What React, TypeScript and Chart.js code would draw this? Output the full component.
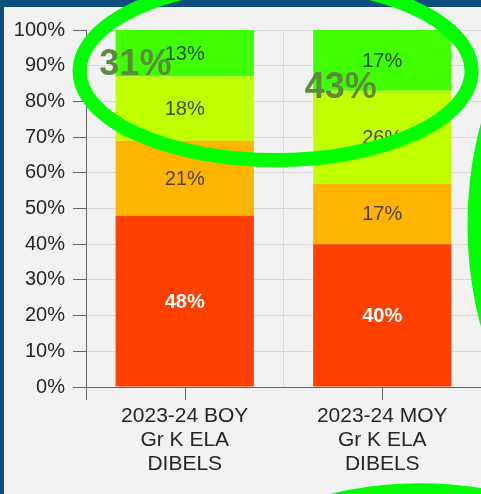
import { useEffect, useRef } from "react";
import { Chart, registerables } from "chart.js";

Chart.register(...registerables);

// ---- data ----
const categories = [
  ["2023-24 BOY", "Gr K ELA", "DIBELS"],
  ["2023-24 MOY", "Gr K ELA", "DIBELS"],
];
const seriesNames = ["Well Below Benchmark", "Below Benchmark", "At Benchmark", "Above Benchmark"];
const wellBelow = [48, 40];
const below = [21, 17];
const atBenchmark = [18, 26];
const aboveBenchmark = [13, 17];
const yTickValues = [0, 10, 20, 30, 40, 50, 60, 70, 80, 90, 100];

// ---- styles ----
const FONT = '"Liberation Sans", Arial, Helvetica, sans-serif';
const NAVY = "#0c4f7d";
const PANEL = "#f2f2f2";
const GRID = "#d9d9d9";
const AXIS = "#666666";
const TEXT = "#262626";
const seriesColors = ["#FF4000", "#FFB500", "#BFFF00", "#40FF00"];
const labelColors = ["#ffffff", "rgba(35,35,35,0.8)", "rgba(35,35,35,0.8)", "rgba(35,35,35,0.8)"];
const labelWeights = ["bold", "normal", "normal", "normal"];

// annotation overlay (centres in data units: category index / percent; radii in px)
const ellipses = [
  { x: 0.46, y: 88.5, rx: 196, ry: 89 },
  { x: 2.1, y: 45.4, rx: 125, ry: 223 },
  { x: 1.19, y: -56.9, rx: 195, ry: 100 },
];
const callouts = [
  { x: -0.25, y: 90.8, idx: 0 },
  { x: 0.79, y: 84.3, idx: 1 },
];

export default function App() {
  const ref = useRef<HTMLCanvasElement>(null);

  useEffect(() => {
    const canvas = ref.current;
    if (!canvas) return;

    const bgPlugin = {
      id: "bgPanel",
      beforeDraw(chart: any) {
        const { ctx, width, height } = chart;
        ctx.save();
        ctx.fillStyle = NAVY;
        ctx.fillRect(0, 0, width, height);
        ctx.fillStyle = PANEL;
        ctx.fillRect(4, 7, width - 4, height - 7);
        ctx.restore();
      },
    };

    const segLabels = {
      id: "segLabels",
      afterDatasetsDraw(chart: any) {
        const { ctx } = chart;
        ctx.save();
        ctx.textAlign = "center";
        ctx.textBaseline = "middle";
        chart.data.datasets.forEach((ds: any, di: number) => {
          const meta = chart.getDatasetMeta(di);
          ctx.fillStyle = labelColors[di];
          ctx.font = `${labelWeights[di]} 20px ${FONT}`;
          meta.data.forEach((bar: any, i: number) => {
            const p = bar.getProps(["x", "y", "base"], true);
            ctx.fillText(`${ds.data[i]}%`, p.x, (p.y + p.base) / 2 + 1);
          });
        });
        ctx.restore();
      },
    };

    const centerTicks = {
      id: "centerTicks",
      afterDraw(chart: any) {
        const { ctx } = chart;
        const xs = chart.scales.x;
        const bottom = chart.chartArea.bottom;
        ctx.save();
        ctx.strokeStyle = AXIS;
        ctx.lineWidth = 1;
        ctx.beginPath();
        categories.forEach((_, i) => {
          const x = Math.round(xs.getPixelForValue(i)) + 0.5;
          ctx.moveTo(x, bottom);
          ctx.lineTo(x, bottom + 13);
        });
        const lx = Math.round(chart.chartArea.left) + 0.5;
        ctx.moveTo(lx, bottom);
        ctx.lineTo(lx, bottom + 13);
        ctx.stroke();
        ctx.restore();
      },
    };

    const overlay = {
      id: "overlay",
      afterDraw(chart: any) {
        const { ctx } = chart;
        const xs = chart.scales.x;
        const ys = chart.scales.y;
        ctx.save();
        ctx.strokeStyle = "#00ff00";
        ctx.lineWidth = 14;
        ellipses.forEach((e) => {
          ctx.beginPath();
          ctx.ellipse(xs.getPixelForValue(e.x), ys.getPixelForValue(e.y), e.rx, e.ry, 0, 0, Math.PI * 2);
          ctx.stroke();
        });
        ctx.fillStyle = "#5b8b3b";
        ctx.font = `bold 36px ${FONT}`;
        ctx.textAlign = "center";
        ctx.textBaseline = "middle";
        callouts.forEach((c) => {
          const total = atBenchmark[c.idx] + aboveBenchmark[c.idx];
          ctx.fillText(`${total}%`, xs.getPixelForValue(c.x), ys.getPixelForValue(c.y) + 2);
        });
        ctx.restore();
      },
    };

    const seriesData = [wellBelow, below, atBenchmark, aboveBenchmark];

    const chart = new Chart(canvas, {
      type: "bar",
      data: {
        labels: categories as any,
        datasets: seriesData.map((d, i) => ({
          label: seriesNames[i],
          data: d,
          backgroundColor: seriesColors[i],
          borderWidth: 0,
          barPercentage: 0.7,
          categoryPercentage: 1,
        })),
      },
      options: {
        responsive: false,
        animation: false,
        layout: { padding: { left: 14, top: 30, right: 0, bottom: 0 } },
        plugins: {
          legend: { display: false },
          tooltip: { enabled: false },
          title: { display: false },
        },
        scales: {
          x: {
            stacked: true,
            offset: true,
            grid: { offset: true, color: GRID, drawTicks: false },
            border: { display: true, color: AXIS },
            ticks: {
              color: TEXT,
              font: { family: FONT, size: 21, lineHeight: "24px" as any },
              padding: 17,
              maxRotation: 0,
              autoSkip: false,
            },
            afterFit(scale: any) {
              scale.height = 107;
            },
          },
          y: {
            stacked: true,
            min: 0,
            max: 100,
            afterBuildTicks(scale: any) {
              scale.ticks = yTickValues.map((v) => ({ value: v }));
            },
            grid: { color: GRID, tickColor: AXIS, tickLength: 13, drawTicks: true },
            border: { display: true, color: AXIS },
            ticks: {
              color: TEXT,
              font: { family: FONT, size: 20 },
              padding: 8,
              callback: (v: any) => `${v}%`,
            },
            afterFit(scale: any) {
              scale.width = 72;
            },
          },
        },
      },
      plugins: [bgPlugin, segLabels, centerTicks, overlay],
    });

    return () => chart.destroy();
  }, []);

  return (
    <div style={{ position: "absolute", left: 0, top: 0, width: 481, height: 494 }}>
      <canvas ref={ref} width={481} height={494} style={{ display: "block" }} />
    </div>
  );
}
